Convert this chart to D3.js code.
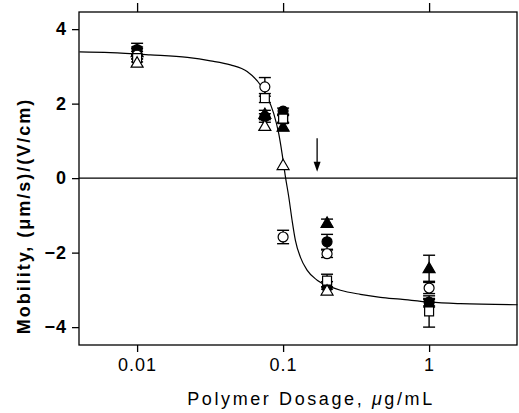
<!DOCTYPE html>
<html>
<head>
<meta charset="utf-8">
<script src="https://cdn.jsdelivr.net/npm/d3@7"></script>
<style>
  body { margin: 0; background: #fff; }
  #chart { width: 519px; height: 413px; }
  text { font-family: "Liberation Sans", Arial, sans-serif; fill: #000; }
</style>
</head>
<body>
<div id="chart"></div>
<script>
// dosage positions where measurements were taken (ug/mL)
const dosage = [0.01, 0.075, 0.1, 0.2, 1];

// mobility values per symbol series, aligned with dosage (null = none)
const filledCircle   = [3.45, 1.65, 1.80, -1.71, -3.33];
const filledSquare   = [3.42, null, 1.58, -2.88, -3.36];
const filledTriangle = [3.38, 1.72, 1.38, -1.20, -2.42];
const openCircle     = [3.30, 2.45, -1.58, -2.03, -2.95];
const openSquare     = [3.22, 2.15, 1.60, -2.75, -3.58];
const openTriangle   = [3.10, 1.40, 0.35, -3.02, null];

// error bar half-widths
const filledCircleErr   = [0.17, 0.08, 0.08, 0.20, 0.10];
const filledSquareErr   = [0.10, null, 0.10, 0.10, 0.10];
const filledTriangleErr = [0.10, 0.10, 0.10, 0.10, 0.35];
const openCircleErr     = [0.10, 0.25, 0.18, 0.10, 0.15];
const openSquareErr     = [0.10, 0.12, 0.10, 0.17, 0.42];
const openTriangleErr   = [0.10, 0.10, 0.00, 0.10, null];

// fitted curve
const curveDose = [0.00403, 0.00656, 0.0123, 0.0221, 0.0318, 0.0436, 0.0567, 0.0699, 0.0777, 0.0862,
                   0.0933, 0.0984, 0.1037, 0.1093, 0.1152, 0.1214, 0.1313, 0.1459, 0.171, 0.211,
                   0.247, 0.338, 0.464, 0.635, 1.02, 1.64, 4.03];
const curveMob  = [3.39, 3.37, 3.31, 3.24, 3.15, 3.04, 2.86, 2.50, 2.19, 1.74,
                   1.20, 0.66, 0.04, -0.50, -1.13, -1.67, -2.12, -2.47, -2.74, -2.92,
                   -3.01, -3.12, -3.20, -3.25, -3.33, -3.37, -3.40];

const xTicks = [0.01, 0.1, 1];
const xTickLabels = ["0.01", "0.1", "1"];
const yTicks = [-4, -2, 0, 2, 4];

// arrow marking the isoelectric dosage
const arrowDose = 0.171, arrowFrom = 1.07, arrowTo = 0.17;

const series = [
  {shape: "circle", fill: "#000", vals: filledCircle, err: filledCircleErr},
  {shape: "square", fill: "#000", vals: filledSquare, err: filledSquareErr},
  {shape: "triangle", fill: "#000", vals: filledTriangle, err: filledTriangleErr},
  {shape: "circle", fill: "#fff", vals: openCircle, err: openCircleErr},
  {shape: "square", fill: "#fff", vals: openSquare, err: openSquareErr},
  {shape: "triangle", fill: "#fff", vals: openTriangle, err: openTriangleErr}
];

const width = 519, height = 413;
const margin = {top: 12, left: 79, right: 2, bottom: 68};

const svg = d3.select("#chart").append("svg")
    .attr("width", width)
    .attr("height", height);

const xScale = d3.scaleLog()
    .domain([0.004, 4])
    .range([margin.left, width - margin.right]);

const yScale = d3.scaleLinear()
    .domain([-4.48, 4.46])
    .range([height - margin.bottom, margin.top]);

// axes
const yAxis = svg.append("g")
    .attr("transform", `translate(${margin.left},0)`)
    .call(d3.axisLeft(yScale).tickValues(yTicks).tickSize(7).tickPadding(5).tickFormat(d3.format("d")));

const xAxis = svg.append("g")
    .attr("transform", `translate(0,${height - margin.bottom})`)
    .call(d3.axisBottom(xScale).tickValues(xTicks).tickSize(7).tickPadding(6)
      .tickFormat((d, i) => xTickLabels[i]));

const xTop = svg.append("g")
    .attr("transform", `translate(0,${margin.top})`)
    .call(d3.axisTop(xScale).tickValues(xTicks).tickSize(9).tickFormat(""));

svg.selectAll(".domain").remove();
svg.selectAll(".tick line").attr("stroke", "#000").attr("stroke-width", 1.3);
svg.selectAll(".tick text")
    .style("font-size", "18px")
    .attr("letter-spacing", 1);
yAxis.selectAll(".tick text").style("font-weight", "bold");

// frame
svg.append("rect")
    .attr("x", margin.left)
    .attr("y", margin.top)
    .attr("width", width - margin.right - margin.left)
    .attr("height", height - margin.bottom - margin.top)
    .attr("fill", "none")
    .attr("stroke", "#000")
    .attr("stroke-width", 1.3);

// zero line
svg.append("line")
    .attr("x1", margin.left).attr("x2", width - margin.right)
    .attr("y1", yScale(0)).attr("y2", yScale(0))
    .attr("stroke", "#000").attr("stroke-width", 1.2);

// fitted curve
const line = d3.line()
    .x(d => xScale(d[0]))
    .y(d => yScale(d[1]))
    .curve(d3.curveMonotoneX);

svg.append("path")
    .datum(d3.zip(curveDose, curveMob))
    .attr("d", line)
    .attr("fill", "none")
    .attr("stroke", "#000")
    .attr("stroke-width", 1.2);

// arrow
const ax = xScale(arrowDose);
svg.append("line")
    .attr("x1", ax).attr("x2", ax)
    .attr("y1", yScale(arrowFrom)).attr("y2", yScale(arrowTo) - 6)
    .attr("stroke", "#000").attr("stroke-width", 1.3);
svg.append("path")
    .attr("d", `M${ax - 3.5},${yScale(arrowTo) - 10}L${ax + 3.5},${yScale(arrowTo) - 10}L${ax},${yScale(arrowTo)}Z`)
    .attr("fill", "#000");

// flatten points
const points = [];
series.forEach(s => {
  s.vals.forEach((v, i) => {
    if (v === null) return;
    points.push({dose: dosage[i], val: v, err: s.err[i] || 0, shape: s.shape, fill: s.fill});
  });
});

// error bars
const eb = svg.append("g").attr("stroke", "#000").attr("stroke-width", 1.4);
points.filter(d => d.err > 0).forEach(d => {
  const cx = xScale(d.dose);
  const y1 = yScale(d.val + d.err), y2 = yScale(d.val - d.err);
  eb.append("line").attr("x1", cx).attr("x2", cx).attr("y1", y1).attr("y2", y2);
  eb.append("line").attr("x1", cx - 6).attr("x2", cx + 6).attr("y1", y1).attr("y2", y1);
  eb.append("line").attr("x1", cx - 6).attr("x2", cx + 6).attr("y1", y2).attr("y2", y2);
});

// markers
const symbolType = {circle: d3.symbolCircle, square: d3.symbolSquare, triangle: d3.symbolTriangle};
const symbolSize = {circle: 78, square: 80, triangle: 62};

svg.append("g").selectAll("path")
    .data(points)
    .enter()
    .append("path")
      .attr("transform", d => `translate(${xScale(d.dose)},${yScale(d.val) + (d.shape === "triangle" ? 1 : 0)})`)
      .attr("d", d => d3.symbol().type(symbolType[d.shape]).size(symbolSize[d.shape])())
      .attr("fill", d => d.fill)
      .attr("stroke", "#000")
      .attr("stroke-width", 1.2);

// labels
svg.append("text")
    .attr("x", 311)
    .attr("y", 405)
    .attr("text-anchor", "middle")
    .attr("letter-spacing", 2.6)
    .style("font-size", "18px")
    .html("Polymer Dosage, <tspan font-style='italic'>μ</tspan>g/mL");

svg.append("text")
    .attr("transform", "rotate(-90)")
    .attr("x", -216)
    .attr("y", 30)
    .attr("text-anchor", "middle")
    .attr("letter-spacing", 2)
    .style("font-size", "18px")
    .style("font-weight", "bold")
    .text("Mobility, (μm/s)/(V/cm)");
</script>
</body>
</html>
